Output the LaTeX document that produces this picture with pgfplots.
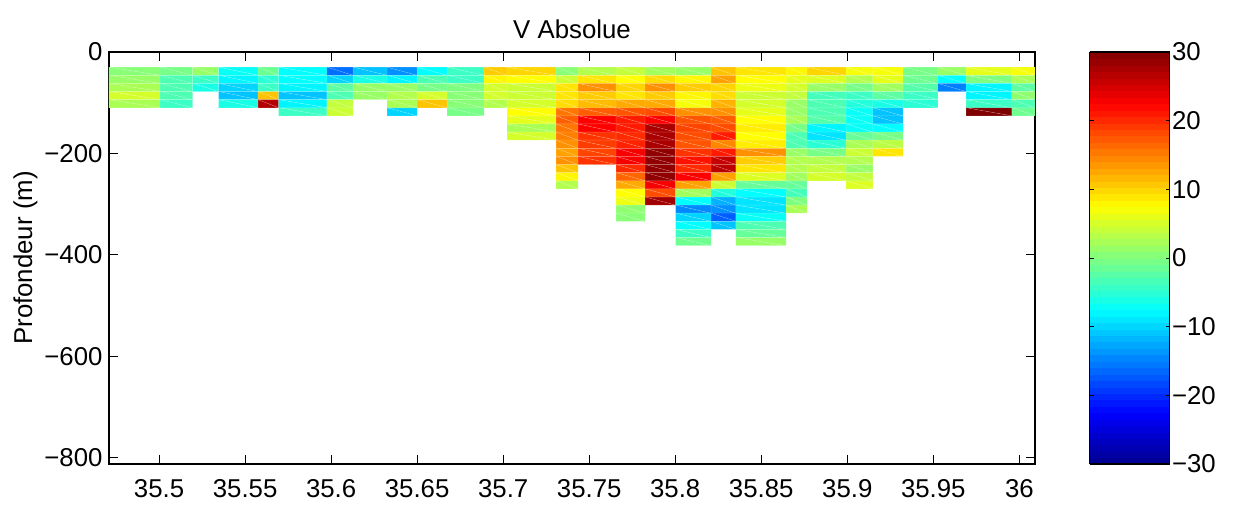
\documentclass[border=0pt]{standalone}
\usepackage{fontspec}
\setmainfont{Liberation Sans}
\usepackage{pgfplots}
\pgfplotsset{compat=1.18}
\pgfplotsset{colormap={jetsmooth}{rgb255(0cm)=(0,0,143) rgb255(1cm)=(0,0,255) rgb255(3cm)=(0,255,255) rgb255(5cm)=(255,255,0) rgb255(7cm)=(255,0,0) rgb255(8cm)=(128,0,0)}}
\newcommand{\fs}{\fontsize{25.8}{29}\selectfont}
\begin{document}
\begin{tikzpicture}[x=1pt,y=1pt]
\useasboundingbox (0,0) rectangle (1235,506);
\gdef\celllist{}
\foreach \xa/\xb/\vals in {
35.4709/35.5006/{0.5,1.5,2.5,5,2.5},
35.5006/35.5195/{-0.5,-3,-3,-3,-4},
35.5195/35.5346/{1.5,-4,-6},
35.5346/35.5575/{-7,-8,-10,-11,-6},
35.5575/35.5695/{-1,-5,-4,11,27},
35.5695/35.5976/{-7.5,-7.5,-8,-11,-8,-4},
35.5976/35.6128/{-16,-10,-2,-3,4,4.5},
35.6128/35.6325/{-11,-6,1.5,1.5},
35.6325/35.6500/{-14,-8,1.5,3,2.5,-10},
35.6500/35.6674/{-7.5,-3,-0.5,5,11},
35.6674/35.6889/{-4,-4,0,0.5,0.5,-0.5},
35.6889/35.7023/{10.5,8,5,5,3},
35.7023/35.7307/{10,7.5,4.5,4.5,5,7.5,6,2.5,5},
35.7307/35.7435/{0.5,4.5,9,9,9.5,15.5,17,15.5,15,14,13,14,11,8,3},
35.7435/35.7656/{3,9,14,10.5,11.5,17,22.5,22.5,19.5,19,18.5,19.5},
35.7656/35.7825/{4,7.5,10,9,12.5,17.5,21,21,20,20.5,23,23,20,16.5,12.5,7.5,6.5,1,0.5},
35.7825/35.8002/{2,9.5,14,10.5,12.5,18,22.5,27.5,27.5,27.5,29,29,29,29,23,18,28},
35.8002/35.8208/{1.5,8,10.5,8,7,14,17.5,18.5,18,17.5,19.5,21.5,20,22.5,13,2,-7.5,-14.5,-10,-7.5,-4,-1},
35.8208/35.8353/{11,13,10,9.5,12,14,17,18,21,14.5,21,26,26.5,13,4.5,-5.5,-12,-14,-17,-11},
35.8353/35.8644/{9,7.5,6.5,4.5,5,6,7.5,8.5,7.5,8.5,14,10.5,9,5.5,-1.5,-7.5,-9,-9,-7,-3,-1.5,1.5},
35.8644/35.8766/{8,6,5,4,1.5,1.5,2.5,-0.5,-3,-3,1.5,3,3,2,-1.5,-3.5,0,2.5},
35.8766/35.8993/{10,5.5,1.5,-3.5,-3,-3,-2.5,-8,-9,-5,-0.5,3,4,5},
35.8993/35.9148/{7,3,-0.5,-4,-5.5,-7,-7,-7,-1.5,2.5,4.5,3,1.5,4,5.5},
35.9148/35.9324/{7,6,2,-2,-6,-11,-11,-7.5,-0.5,3.5,9},
35.9324/35.9527/{-0.5,-1,-2.5,-4,-5},
35.9527/35.9690/{1.5,-7.5,-15},
35.9690/35.9957/{6,0,-8,-8,-4,30},
35.9957/36.0091/{7,2.5,-2,1,-3,-1}%
}{%
  \foreach \v [count=\k from 0] in \vals {%
    \pgfmathtruncatemacro\ya{-30-16*\k}%
    \pgfmathtruncatemacro\yb{-46-16*\k}%
    \xdef\celllist{\celllist (\xa,\ya)[\v] (\xb,\ya)[\v] (\xb,\yb)[\v] (\xa,\ya)[\v] (\xa,\yb)[\v] (\xb,\yb)[\v] }%
  }%
}
\begin{axis}[
  at={(109pt,42pt)}, anchor=south west,
  scale only axis, width=926pt, height=412pt,
  xmin=35.4709, xmax=36.0091, ymin=-812.6, ymax=0,
  axis line style={line width=1.6pt},
  tick style={line width=0.9pt, black},
  major tick length=9pt, tick align=inside, tickpos=both,
  xtick={35.5,35.55,35.6,35.65,35.7,35.75,35.8,35.85,35.9,35.95,36},
  xticklabels={35.5,35.55,35.6,35.65,35.7,35.75,35.8,35.85,35.9,35.95,36},
  ytick={-800,-600,-400,-200,0},
  yticklabels={−800,−600,−400,−200,0},
  ticklabel style={font=\fs},
  xticklabel pos=bottom, yticklabel pos=left,
  xticklabel style={yshift=-12pt},
  yticklabel style={xshift=-3pt},
  title={V Absolue}, title style={font=\fs, at={(0.5,1)}, yshift=4pt},
  ylabel={Profondeur (m)}, ylabel style={font=\fs},
  point meta min=-30, point meta max=30,
  colormap name=jetsmooth,
  colorbar, colorbar sampled,
  colorbar style={
    samples=65,
    at={(parent axis.north east)}, anchor=north west, xshift=46pt,
    scale only axis, width=80pt, height=412pt,
    axis line style={line width=1.6pt},
    major tick length=4pt, tick align=inside, tick style={line width=0.9pt,black},
    ytick={-30,-20,-10,0,10,20,30},
    yticklabels={−30,−20,−10,0,10,20,30},
    yticklabel style={font=\fs, xshift=-1pt, anchor=west},
    ytick pos=both, yticklabel pos=right,
  },
]
\def\doplot#1{\addplot[patch, shader=faceted, faceted color=white, line width=0.5pt, draw opacity=0.22, point meta=explicit] coordinates {#1};}
\expandafter\doplot\expandafter{\celllist}
\end{axis}
\end{tikzpicture}
\end{document}
